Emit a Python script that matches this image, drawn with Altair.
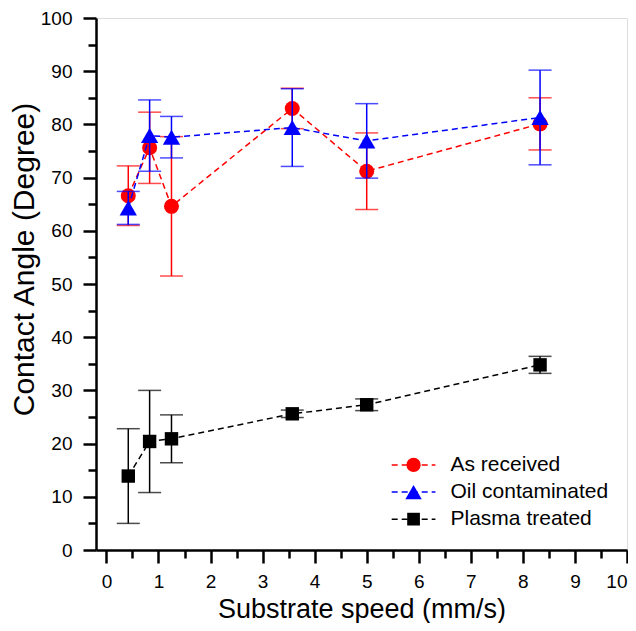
import altair as alt
import pandas as pd

# ---- data ----
speed = [0.42, 0.83, 1.25, 3.57, 5.0, 8.33]
as_received = [66.6, 75.6, 64.6, 83.0, 71.2, 80.1]
as_received_err = [5.6, 6.7, 13.1, 3.8, 7.2, 4.9]
oil = [64.3, 77.9, 77.6, 79.4, 76.9, 81.3]
oil_err = [3.1, 6.7, 3.9, 7.3, 7.0, 8.9]
plasma = [13.9, 20.4, 20.9, 25.6, 27.3, 34.8]
plasma_err = [8.9, 9.6, 4.5, 0.7, 1.1, 1.6]

series_names = ["As received", "Oil contaminated", "Plasma treated"]
series_vals = [as_received, oil, plasma]
series_errs = [as_received_err, oil_err, plasma_err]
colors = ["#FF0000", "#0000FF", "#000000"]
shapes = ["circle", "triangle-up", "square"]
sizes = [225, 300, 180]

x_ticks = [i * 0.5 for i in range(21)]
y_ticks = [i * 5 for i in range(21)]

# legend placement (in data units)
legend_y = [16.0, 10.9, 5.8]
legend_x1, legend_xm, legend_x2, legend_xt = 5.48, 5.9, 6.32, 6.61

FONT = "Liberation Sans"

xscale = alt.Scale(domain=[-0.2, 10], nice=False, zero=False)
yscale = alt.Scale(domain=[0, 100], nice=False, zero=False)

xaxis = alt.Axis(
    values=x_ticks,
    title="Substrate speed (mm/s)",
    labelExpr="datum.value % 1 === 0 ? format(datum.value, 'd') : ''",
    tickSize={"condition": {"test": "datum.value % 1 === 0", "value": 13}, "value": 8},
    grid=False, domainColor="black", domainWidth=2.5,
    tickColor="black", tickWidth=2.5,
    labelFont=FONT, labelFontSize=19, labelColor="black", labelPadding=9,
    labelFlush=1, labelOverlap=False,
    titleFont=FONT, titleFontSize=27, titleFontWeight="normal", titleColor="black",
    titleBaseline="alphabetic", titleY=67,
)
yaxis = alt.Axis(
    values=y_ticks,
    title="Contact Angle (Degree)",
    labelExpr="datum.value % 10 === 0 ? format(datum.value, 'd') : ''",
    tickSize={"condition": {"test": "datum.value % 10 === 0", "value": 13}, "value": 8},
    grid=False, domainColor="black", domainWidth=2.5,
    tickColor="black", tickWidth=2.5,
    labelFont=FONT, labelFontSize=19, labelColor="black", labelPadding=11,
    labelFlush=False, labelOverlap=False,
    titleFont=FONT, titleFontSize=30, titleFontWeight="normal", titleColor="black",
    titleBaseline="alphabetic", titleX=-63, titleY=241, titleAngle=-90,
)


def X(field):
    return alt.X(f"{field}:Q", scale=xscale, axis=xaxis)


def Y(field):
    return alt.Y(f"{field}:Q", scale=yscale, axis=yaxis)


layers = []
for name, vals, errs, c, shp, sz in zip(series_names, series_vals, series_errs, colors, shapes, sizes):
    df = pd.DataFrame({
        "x": speed,
        "y": vals,
        "lo": [v - e for v, e in zip(vals, errs)],
        "hi": [v + e for v, e in zip(vals, errs)],
    })
    base = alt.Chart(df)
    layers.append(base.mark_rule(color=c, strokeWidth=1.5).encode(x=X("x"), y=Y("lo"), y2="hi:Q"))
    layers.append(base.mark_tick(color=c, orient="horizontal", size=23, thickness=1.5).encode(x=X("x"), y=Y("lo")))
    layers.append(base.mark_tick(color=c, orient="horizontal", size=23, thickness=1.5).encode(x=X("x"), y=Y("hi")))
    layers.append(base.mark_line(color=c, strokeWidth=1.5, strokeDash=[6, 4]).encode(x=X("x"), y=Y("y")))
    layers.append(base.mark_point(color=c, filled=True, opacity=1, shape=shp, size=sz).encode(x=X("x"), y=Y("y")))

# legend drawn as layers
for name, ly, c, shp, sz in zip(series_names, legend_y, colors, shapes, sizes):
    ldf = pd.DataFrame({"x": [legend_x1], "x2": [legend_x2], "xm": [legend_xm], "xt": [legend_xt], "y": [ly], "label": [name]})
    lb = alt.Chart(ldf)
    layers.append(lb.mark_rule(color=c, strokeWidth=1.5, strokeDash=[6, 4]).encode(x=X("x"), x2="x2:Q", y=Y("y")))
    layers.append(lb.mark_point(color=c, filled=True, opacity=1, shape=shp, size=sz * 0.9).encode(x=X("xm"), y=Y("y")))
    layers.append(lb.mark_text(align="left", baseline="middle", font=FONT, fontSize=21, color="black").encode(
        x=X("xt"), y=Y("y"), text="label:N"))

chart = alt.layer(*layers).properties(
    width=531, height=532,
    autosize=alt.AutoSizeParams(type="none"),
    padding={"left": 88, "top": 10, "right": 1, "bottom": 73},
).configure_view(stroke="black", strokeWidth=2.5).configure(background="white")

chart.save("out.html", embed_options={"renderer": "svg", "actions": False})
